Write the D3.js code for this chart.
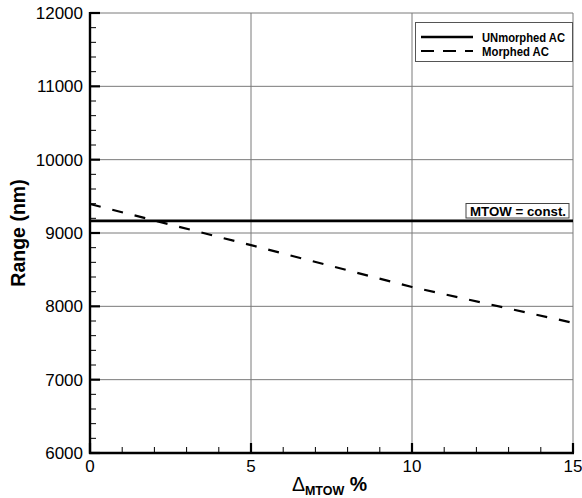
<!DOCTYPE html>
<html>
<head>
<meta charset="utf-8">
<script src="https://cdn.jsdelivr.net/npm/d3@7"></script>
<style>
  html, body { margin: 0; padding: 0; background: #fff; }
  svg { display: block; font-family: "Liberation Sans", Arial, Helvetica, sans-serif; }
</style>
</head>
<body>
<svg id="chart" width="582" height="498"></svg>
<script>
// Range vs. MTOW increment
const xTicks = [0, 5, 10, 15];
const yTicks = [6000, 7000, 8000, 9000, 10000, 11000, 12000];
const unmorphedX = [0, 15];
const unmorphedRange = [9165, 9165];
const morphedX = [0, 5, 10, 15];
const morphedRange = [9395, 8834, 8263, 7775];
const seriesNames = ["UNmorphed AC", "Morphed AC"];

const svg = d3.select("#chart");
const m = { left: 90, right: 573, top: 13, bottom: 453 };

const x = d3.scaleLinear().domain([0, 15]).range([m.left, m.right]);
const y = d3.scaleLinear().domain([6000, 12000]).range([m.bottom, m.top]);

// grid
const grid = svg.append("g").attr("stroke", "#7a7a7a").attr("stroke-width", 1);
xTicks.forEach(v => grid.append("line")
  .attr("x1", x(v)).attr("x2", x(v)).attr("y1", m.top).attr("y2", m.bottom));
yTicks.forEach(v => grid.append("line")
  .attr("x1", m.left).attr("x2", m.right).attr("y1", y(v)).attr("y2", y(v)));

// minor + major ticks, pointing inward
const tk = svg.append("g").attr("stroke", "#000");
d3.range(0, 15.01, 1).forEach(v => {
  const major = xTicks.includes(v);
  tk.append("line").attr("x1", x(v)).attr("x2", x(v))
    .attr("y1", m.bottom).attr("y2", m.bottom - (major ? 10 : 6))
    .attr("stroke-width", major ? 2.2 : 1);
});
d3.range(6000, 12000.1, 200).forEach(v => {
  const major = yTicks.includes(v);
  tk.append("line").attr("y1", y(v)).attr("y2", y(v))
    .attr("x1", m.left).attr("x2", m.left + (major ? 10 : 6))
    .attr("stroke-width", major ? 2.2 : 1);
});

// axis lines
svg.append("line").attr("x1", m.left).attr("x2", m.left).attr("y1", m.top - 1).attr("y2", m.bottom + 1)
  .attr("stroke", "#000").attr("stroke-width", 2.4);
svg.append("line").attr("x1", m.left - 1).attr("x2", m.right + 1).attr("y1", m.bottom).attr("y2", m.bottom)
  .attr("stroke", "#000").attr("stroke-width", 2.4);

// tick labels
svg.append("g").selectAll("text").data(yTicks).join("text")
  .attr("x", m.left - 7).attr("y", d => y(d) + 6)
  .attr("text-anchor", "end").attr("font-size", 17).text(d => d);
svg.append("g").selectAll("text").data(xTicks).join("text")
  .attr("x", d => x(d)).attr("y", m.bottom + 19)
  .attr("text-anchor", "middle").attr("font-size", 17).text(d => d);

// axis titles
svg.append("text").attr("transform", `translate(25,${(m.top + m.bottom) / 2}) rotate(-90)`)
  .attr("text-anchor", "middle").attr("font-size", 19.5).attr("font-weight", "bold").text("Range (nm)");
const xt = svg.append("text").attr("x", (m.left + m.right) / 2 - 2).attr("y", 491)
  .attr("text-anchor", "middle").attr("font-size", 19.5).attr("font-weight", "bold");
xt.append("tspan").attr("font-weight", "normal").text("Δ");
xt.append("tspan").attr("font-size", 12.5).attr("dy", 4).text("MTOW");
xt.append("tspan").attr("dy", -4).text(" %");

// series
const line = d3.line().x(d => x(d[0])).y(d => y(d[1]));
svg.append("path").datum(d3.zip(unmorphedX, unmorphedRange))
  .attr("d", line).attr("fill", "none").attr("stroke", "#000").attr("stroke-width", 2.6);
svg.append("path").datum(d3.zip(morphedX, morphedRange))
  .attr("d", line).attr("fill", "none").attr("stroke", "#000").attr("stroke-width", 2.2)
  .attr("stroke-dasharray", "11,12");

// annotation
const ann = svg.append("g");
ann.append("rect").attr("x", 466).attr("y", 203.5).attr("width", 103).attr("height", 14.5)
  .attr("fill", "#fff").attr("stroke", "#444").attr("stroke-width", 1);
ann.append("text").attr("x", 470).attr("y", 215.5)
  .attr("textLength", 96).attr("lengthAdjust", "spacingAndGlyphs")
  .attr("font-size", 13.5).attr("font-weight", "bold").text("MTOW = const.");

// legend
const lg = svg.append("g");
lg.append("rect").attr("x", 415.5).attr("y", 22.5).attr("width", 157).attr("height", 39)
  .attr("fill", "#fff").attr("stroke", "#555").attr("stroke-width", 1);
const dashes = [null, "13,9"];
const widths = [2.6, 2.2];
const labelLen = [83, 67];
seriesNames.forEach((name, i) => {
  const yy = 37 + i * 14;
  lg.append("line").attr("x1", 421).attr("x2", 473).attr("y1", yy).attr("y2", yy)
    .attr("stroke", "#000").attr("stroke-width", widths[i])
    .attr("stroke-dasharray", dashes[i]);
  lg.append("text").attr("x", 482).attr("y", yy + 4.5)
    .attr("textLength", labelLen[i]).attr("lengthAdjust", "spacingAndGlyphs")
    .attr("font-size", 13).attr("font-weight", "bold").text(name);
});
</script>
</body>
</html>
